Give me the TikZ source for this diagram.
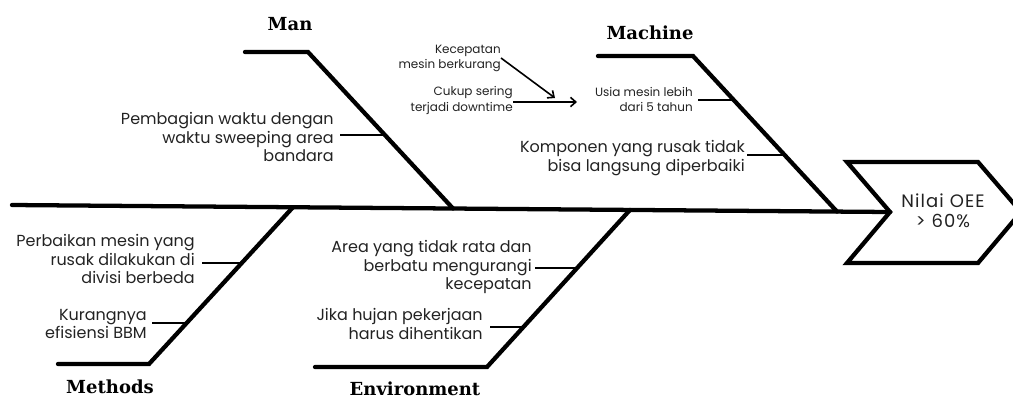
\documentclass[tikz,border=0pt]{standalone}
\usepackage{fontspec}
\setmainfont{Poppins}
\newfontfamily\labfont{DejaVu Serif}
\usetikzlibrary{arrows.meta,calc}
\definecolor{ink}{HTML}{222222}
\begin{document}
\begin{tikzpicture}[x=0.75pt,y=-0.75pt,
  bone/.style={line width=3.2pt, line cap=round, line join=miter, draw=black},
  twig/.style={line width=1.4pt, draw=black},
  cause/.style={anchor=east, align=right, inner sep=0pt, text=ink, font=\fontsize{12}{14.2}\selectfont},
  smallcause/.style={cause, font=\fontsize{9}{11.3}\selectfont},
  cat/.style={inner sep=0pt, font=\labfont\bfseries\fontsize{13.5}{16}\selectfont},
  pointer/.style={line width=1.2pt, -{Straight Barb[length=4pt,width=7pt]}},
  headtext/.style={align=center, inner sep=0pt, text=ink, font=\addfontfeatures{LetterSpace=6}\fontsize{13.5}{15}\selectfont}
]
\useasboundingbox (0,0) rectangle (1013,401);

% spine and head
\coordinate (tail) at (12,205);
\coordinate (notch) at (890,212);
\coordinate (h1) at (847,162);
\coordinate (h2) at (978,162);
\coordinate (h3) at (1021,212);
\coordinate (h4) at (978,263);
\coordinate (h5) at (847,263);
\draw[bone] (tail) -- (notch);
\draw[bone, line cap=butt] (notch) -- (h1) -- (h2) -- (h3) -- (h4) -- (h5) -- cycle;
\node[headtext] (head) at (943,211) {Nilai OEE\\> 60\%};

% Man
\coordinate (manEnd) at (245,52);
\coordinate (manKnee) at (308,52);
\coordinate (manJoin) at (453,208.5);
\draw[bone] (manEnd) -- (manKnee) -- (manJoin);
\node[cat] (man) at (290,24) {Man};
\node[cause] (manA) at (334,137) {Pembagian waktu dengan\\waktu sweeping area\\bandara};
\coordinate (manAs) at (340,135);
\coordinate (manAe) at (385,135);
\draw[twig] (manAs) -- (manAe);

% Machine
\coordinate (macEnd) at (598,56);
\coordinate (macKnee) at (693,56);
\coordinate (macJoin) at (837,211.6);
\draw[bone] (macEnd) -- (macKnee) -- (macJoin);
\node[cat] (mac) at (650,33) {Machine};
\node[smallcause] (usia) at (693,99.5) {Usia mesin lebih\\dari 5 tahun};
\coordinate (usiaS) at (698,100);
\coordinate (usiaE) at (734,100);
\draw[twig] (usiaS) -- (usiaE);
\node[cause] (komp) at (745,158.5) {Komponen yang rusak tidak\\bisa langsung diperbaiki};
\coordinate (kompS) at (747,155);
\coordinate (kompE) at (785,155);
\draw[twig] (kompS) -- (kompE);
\node[smallcause] (kec) at (501,58) {Kecepatan\\mesin berkurang};
\node[smallcause] (cukup) at (513,100.5) {Cukup sering\\terjadi downtime};
\coordinate (kecTip) at (555,98);
\coordinate (cukupTip) at (577,102);
\draw[pointer] (kec.east) -- (kecTip);
\draw[pointer] (cukup.east |- cukupTip) -- (cukupTip);

% Methods
\coordinate (metEnd) at (58,364);
\coordinate (metKnee) at (149,364);
\coordinate (metJoin) at (293,207.2);
\draw[bone] (metEnd) -- (metKnee) -- (metJoin);
\node[cat] (met) at (110,387) {Methods};
\node[cause] (perb) at (195,259) {Perbaikan mesin yang\\rusak dilakukan di\\divisi berbeda};
\coordinate (perbS) at (202,263);
\coordinate (perbE) at (242,263);
\draw[twig] (perbS) -- (perbE);
\node[cause] (kur) at (147,324) {Kurangnya\\efisiensi BBM};
\coordinate (kurS) at (152,323);
\coordinate (kurE) at (187,323);
\draw[twig] (kurS) -- (kurE);

% Environment
\coordinate (envEnd) at (315,367);
\coordinate (envKnee) at (487,367);
\coordinate (envJoin) at (630,209.9);
\draw[bone] (envEnd) -- (envKnee) -- (envJoin);
\node[cat] (env) at (415,389) {Environment};
\node[cause] (area) at (532,267) {Area yang tidak rata dan\\berbatu mengurangi\\kecepatan};
\coordinate (areaS) at (535,268);
\coordinate (areaE) at (577,268);
\draw[twig] (areaS) -- (areaE);
\node[cause] (jika) at (483,324) {Jika hujan pekerjaan\\harus dihentikan};
\coordinate (jikaS) at (490,327);
\coordinate (jikaE) at (523,327);
\draw[twig] (jikaS) -- (jikaE);
\end{tikzpicture}
\end{document}
